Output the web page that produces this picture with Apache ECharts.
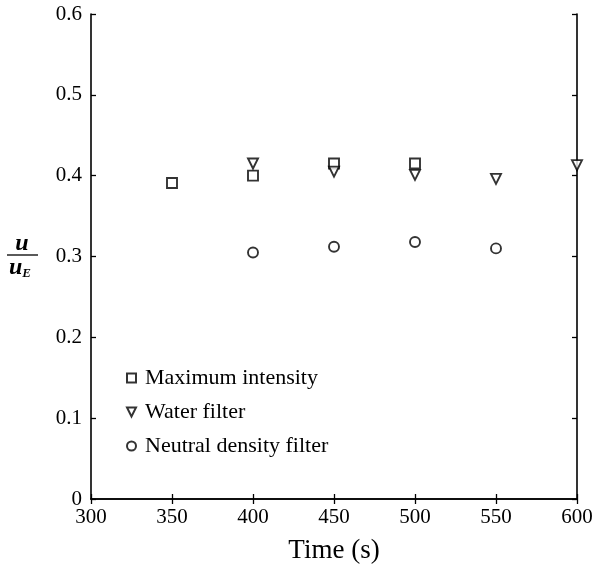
<!DOCTYPE html>
<html>
<head>
<meta charset="utf-8">
<script src="https://cdn.jsdelivr.net/npm/echarts@6/dist/echarts.min.js"></script>
<style>html,body{margin:0;padding:0;background:#fff}#c{width:596px;height:569px}</style>
</head>
<body>
<div id="c"></div>
<script>
const xTicks = [300, 350, 400, 450, 500, 550, 600];
const yTicks = [0, 0.1, 0.2, 0.3, 0.4, 0.5, 0.6];
const maxIntensityX = [350, 400, 450, 500];
const maxIntensityY = [0.391, 0.400, 0.415, 0.415];
const waterFilterX = [400, 450, 500, 550, 600];
const waterFilterY = [0.415, 0.405, 0.401, 0.396, 0.413];
const neutralX = [400, 450, 500, 550];
const neutralY = [0.305, 0.312, 0.318, 0.310];
const seriesNames = ['Maximum intensity', 'Water filter', 'Neutral density filter'];

const font = '"Liberation Serif", "DejaVu Serif", serif';
const pair = (xs, ys) => xs.map((x, i) => [x, ys[i]]);
const downTri = 'path://M0,0 L10,0 L5,10 Z';

const chart = echarts.init(document.getElementById('c'), null, {renderer: 'canvas'});
const axisCommon = {
  axisLine: {show: true, lineStyle: {color: '#000', width: 1.6}},
  axisTick: {show: true, inside: true, length: 5, lineStyle: {color: '#000', width: 1.3}},
  splitLine: {show: false}
};
const markStyle = {color: '#fff', borderColor: '#000', borderWidth: 1.9};
chart.setOption({
  animation: false,
  backgroundColor: '#fff',
  grid: {left: 91, right: 19, top: 14, bottom: 69},
  xAxis: [
    Object.assign({type: 'value', min: 300, max: 600, interval: 50, position: 'bottom',
      axisLabel: {color: '#000', fontFamily: font, fontSize: 21, margin: 8,
        formatter: v => xTicks.includes(v) ? String(v) : ''},
      name: 'Time (s)', nameLocation: 'middle', nameGap: 38,
      nameTextStyle: {color: '#000', fontFamily: font, fontSize: 27}}, axisCommon),
    Object.assign({type: 'value', min: 300, max: 600, interval: 50, position: 'top',
      axisLabel: {show: false}}, axisCommon)
  ],
  yAxis: [
    Object.assign({type: 'value', min: 0, max: 0.6, interval: 0.1, position: 'left',
      axisLabel: {color: '#000', fontFamily: font, fontSize: 21, margin: 9,
        formatter: v => { const t = yTicks.find(k => Math.abs(k - v) < 1e-9); return t === 0 ? '0' : (t !== undefined ? t.toFixed(1) : ''); }}}, axisCommon),
    Object.assign({type: 'value', min: 0, max: 0.6, interval: 0.1, position: 'right',
      axisLabel: {show: false}}, axisCommon)
  ],
  legend: {
    orient: 'vertical', left: 121, top: 362, itemGap: 12,
    itemWidth: 9, itemHeight: 9,
    textStyle: {color: '#000', fontFamily: font, fontSize: 22, padding: [0, 0, 0, 4]},
    data: [
      {name: seriesNames[0], icon: 'rect'},
      {name: seriesNames[1], icon: downTri},
      {name: seriesNames[2], icon: 'circle'}
    ]
  },
  series: [
    {name: seriesNames[0], type: 'scatter', symbol: 'rect', symbolSize: 10,
     itemStyle: markStyle, data: pair(maxIntensityX, maxIntensityY)},
    {name: seriesNames[1], type: 'scatter', symbol: downTri, symbolSize: [10, 10],
     itemStyle: markStyle, data: pair(waterFilterX, waterFilterY)},
    {name: seriesNames[2], type: 'scatter', symbol: 'circle', symbolSize: 10,
     itemStyle: markStyle, data: pair(neutralX, neutralY)}
  ],
  graphic: [
    {type: 'text', x: 22, y: 244,
     style: {text: 'u', fill: '#000', font: 'bold italic 24px ' + font, align: 'center', verticalAlign: 'middle'}},
    {type: 'line', shape: {x1: 7, y1: 255, x2: 38, y2: 255}, style: {stroke: '#000', lineWidth: 1.3}},
    {type: 'text', x: 9, y: 256,
     style: {rich: {a: {font: 'bold italic 24px ' + font, fill: '#000'}, b: {font: 'bold italic 13px ' + font, fill: '#000', padding: [11, 0, 0, 0]}}, text: '{a|u}{b|E}'}}
  ]
});
</script>
</body>
</html>
